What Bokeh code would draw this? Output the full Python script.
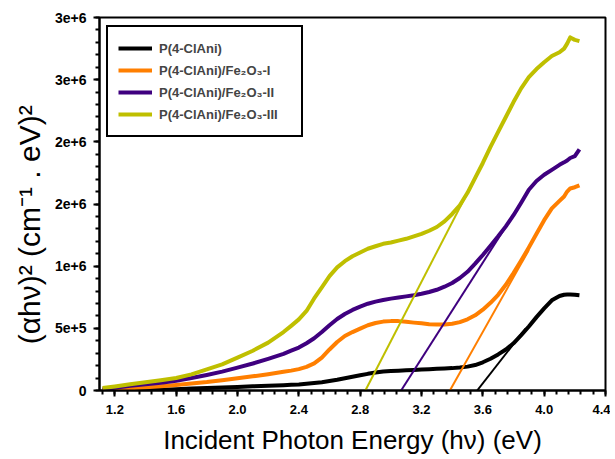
from bokeh.plotting import figure
from bokeh.models import FixedTicker, Legend, LegendItem, Range1d
from bokeh.embed import file_html
from bokeh.resources import INLINE

# ---- data ----
energy = [1.12, 1.2, 1.3, 1.4, 1.5, 1.6, 1.7, 1.8, 1.9, 2.0, 2.1, 2.2, 2.3,
          2.35, 2.4, 2.45, 2.5, 2.55, 2.6, 2.65, 2.7, 2.75, 2.8, 2.85, 2.9,
          2.95, 3.0, 3.05, 3.1, 3.15, 3.2, 3.25, 3.3, 3.35, 3.4, 3.45, 3.5,
          3.55, 3.6, 3.65, 3.7, 3.75, 3.8, 3.85, 3.9, 3.95, 4.0, 4.05, 4.1,
          4.13, 4.15, 4.17, 4.2, 4.23]

pani = [2e3, 3e3, 4e3, 5e3, 7e3, 1.1e4, 1.6e4, 2.1e4, 2.5e4, 2.9e4, 3.4e4,
        3.9e4, 4.3e4, 4.6e4, 4.9e4, 5.4e4, 6.0e4, 6.7e4, 7.6e4, 8.6e4, 9.8e4,
        1.1e5, 1.22e5, 1.34e5, 1.44e5, 1.52e5, 1.56e5, 1.59e5, 1.62e5,
        1.65e5, 1.68e5, 1.71e5, 1.74e5, 1.77e5, 1.8e5, 1.85e5, 1.92e5,
        2.05e5, 2.27e5, 2.55e5, 2.9e5, 3.3e5, 3.8e5, 4.45e5, 5.15e5, 5.9e5,
        6.6e5, 7.25e5, 7.6e5, 7.7e5, 7.72e5, 7.72e5, 7.7e5, 7.66e5]

fe_1 = [3e3, 1.0e4, 1.8e4, 2.6e4, 3.5e4, 4.5e4, 5.6e4, 6.8e4, 8.3e4, 9.8e4,
        1.14e5, 1.31e5, 1.5e5, 1.6e5, 1.72e5, 1.9e5, 2.18e5, 2.65e5, 3.3e5,
        3.9e5, 4.38e5, 4.7e5, 4.98e5, 5.25e5, 5.43e5, 5.54e5, 5.58e5, 5.58e5,
        5.53e5, 5.46e5, 5.4e5, 5.33e5, 5.3e5, 5.31e5, 5.37e5, 5.5e5, 5.73e5,
        6.05e5, 6.5e5, 7.05e5, 7.7e5, 8.5e5, 9.45e5, 1.045e6, 1.15e6, 1.26e6,
        1.37e6, 1.465e6, 1.525e6, 1.56e6, 1.6e6, 1.625e6, 1.635e6, 1.65e6]

fe_2 = [1.0e4, 2.2e4, 3.8e4, 5.0e4, 6.2e4, 7.8e4, 1.0e5, 1.25e5, 1.52e5,
        1.84e5, 2.17e5, 2.55e5, 2.95e5, 3.2e5, 3.45e5, 3.8e5, 4.2e5, 4.7e5,
        5.25e5, 5.75e5, 6.15e5, 6.48e5, 6.75e5, 6.98e5, 7.15e5, 7.28e5,
        7.39e5, 7.48e5, 7.57e5, 7.66e5, 7.78e5, 7.92e5, 8.1e5, 8.35e5,
        8.65e5, 9.05e5, 9.55e5, 1.02e6, 1.09e6, 1.165e6, 1.24e6, 1.32e6,
        1.41e6, 1.51e6, 1.615e6, 1.685e6, 1.735e6, 1.775e6, 1.815e6,
        1.835e6, 1.85e6, 1.87e6, 1.885e6, 1.94e6]

fe_3 = [2.0e4, 3.3e4, 5.1e4, 6.6e4, 8.2e4, 1.0e5, 1.3e5, 1.7e5, 2.1e5,
        2.65e5, 3.2e5, 3.85e5, 4.7e5, 5.2e5, 5.72e5, 6.4e5, 7.4e5, 8.3e5,
        9.2e5, 9.9e5, 1.04e6, 1.08e6, 1.11e6, 1.14e6, 1.16e6, 1.18e6,
        1.19e6, 1.205e6, 1.22e6, 1.24e6, 1.26e6, 1.285e6, 1.315e6, 1.36e6,
        1.42e6, 1.49e6, 1.59e6, 1.71e6, 1.83e6, 1.96e6, 2.08e6, 2.2e6,
        2.32e6, 2.43e6, 2.52e6, 2.585e6, 2.64e6, 2.69e6, 2.72e6, 2.75e6,
        2.79e6, 2.84e6, 2.82e6, 2.81e6]

series_names = ["P(4-ClAni)", "P(4-ClAni)/Fe\u2082O\u2083-I",
                "P(4-ClAni)/Fe\u2082O\u2083-II", "P(4-ClAni)/Fe\u2082O\u2083-III"]
series_values = [pani, fe_1, fe_2, fe_3]
series_colors = ["#000000", "#FF7F00", "#3F007F", "#BFBF00"]

# Tauc extrapolation lines: (start energy, end energy), (start value, end value)
fit_x = [[3.563, 3.88], [3.385, 3.90], [3.067, 3.87], [2.834, 3.60]]
fit_y = [[0, 5.0e5], [0, 1.13e6], [0, 1.55e6], [0, 1.83e6]]

x_ticks = [1.2, 1.6, 2.0, 2.4, 2.8, 3.2, 3.6, 4.0, 4.4]
x_tick_labels = ["1.2", "1.6", "2.0", "2.4", "2.8", "3.2", "3.6", "4.0", "4.4"]
y_ticks = [0, 500000, 1000000, 1500000, 2000000, 2500000, 3000000]
y_tick_labels = ["0", "5e+5", "1e+6", "2e+6", "2e+6", "3e+6", "3e+6"]

x_minor = [round(1.12 + 0.08 * i, 2) for i in range(42)]
y_minor = [100000 * i for i in range(31)]

FONT = "Liberation Sans"

p = figure(width=610, height=458, x_range=Range1d(1.1, 4.4),
           y_range=Range1d(0, 3e6), output_backend="svg",
           toolbar_location=None, min_border_left=99, min_border_right=5,
           min_border_top=17, min_border_bottom=68)
p.grid.visible = False
p.outline_line_color = "black"
p.outline_line_width = 2
p.outline_line_alpha = 1.0
p.background_fill_color = "white"
p.border_fill_color = "white"

for ax, ticks, labels, minor in [(p.xaxis[0], x_ticks, x_tick_labels, x_minor),
                                 (p.yaxis[0], y_ticks, y_tick_labels, y_minor)]:
    ax.ticker = FixedTicker(ticks=ticks, minor_ticks=minor)
    ax.major_label_overrides = {t: l for t, l in zip(ticks, labels)}
    ax.axis_line_width = 2
    ax.axis_line_color = "black"
    ax.major_tick_line_width = 2
    ax.minor_tick_line_width = 2
    ax.major_tick_in = 0
    ax.major_tick_out = 6
    ax.minor_tick_in = 0
    ax.minor_tick_out = 4
    ax.major_label_text_font = FONT
    ax.major_label_text_font_style = "bold"
    ax.major_label_text_color = "black"
    ax.axis_label_text_font = FONT
    ax.axis_label_text_font_style = "normal"
    ax.axis_label_text_color = "black"

p.xaxis.major_label_text_font_size = "13px"
p.yaxis.major_label_text_font_size = "14px"
p.xaxis.major_label_standoff = 8
p.yaxis.major_label_standoff = 7
p.xaxis.axis_label = "Incident Photon Energy (h\u03bd) (eV)"
p.xaxis.axis_label_text_font_size = "26px"
p.xaxis.axis_label_standoff = 8
p.yaxis.axis_label = ("(\u03b1h\u03bd)\u00b2 (cm\u207b\u00b9 . eV)\u00b2"
                      + "\u00a0" * 5)
p.yaxis.axis_label_text_font_size = "30px"
p.yaxis.axis_label_standoff = 6

items = []
for name, vals, col in zip(series_names, series_values, series_colors):
    r = p.line(energy, vals, line_color=col, line_width=4, line_join="round")
    items.append(LegendItem(label=name, renderers=[r]))

for fx, fy, col in zip(fit_x, fit_y, series_colors):
    p.line(fx, fy, line_color=col, line_width=2)

legend = Legend(items=items, location=(7, 253))
legend.border_line_color = "black"
legend.border_line_width = 2
legend.border_line_alpha = 1.0
legend.background_fill_color = "white"
legend.background_fill_alpha = 1.0
legend.label_text_font = FONT
legend.label_text_font_style = "bold"
legend.label_text_font_size = "13px"
legend.glyph_width = 34
legend.label_standoff = 7
legend.label_width = 132
legend.padding = 10
legend.spacing = 0
legend.label_height = 22
legend.glyph_height = 22
legend.margin = 0
p.add_layout(legend)

open("out.html", "w").write(file_html(p, INLINE))
